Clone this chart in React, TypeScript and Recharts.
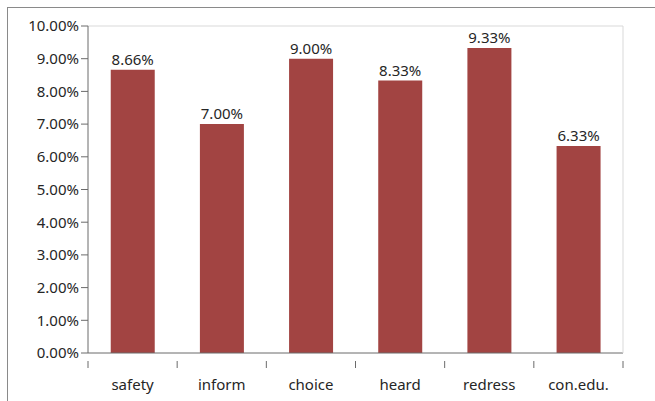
import React from 'react';
import { BarChart, Bar, XAxis, YAxis, LabelList } from 'recharts';

const categories = ['safety', 'inform', 'choice', 'heard', 'redress', 'con.edu.'];
const values = [8.66, 7.0, 9.0, 8.33, 9.33, 6.33];
const yTicks = [0, 1, 2, 3, 4, 5, 6, 7, 8, 9, 10];

const data = categories.map((c, i) => ({ name: c, value: values[i] }));

const W = 655;
const H = 401;
const MARGIN = { top: 25, right: 31, bottom: 0, left: 0 };
const YW = 88;
const PLOT_W = W - MARGIN.left - MARGIN.right - YW - 1;
const STEP = PLOT_W / categories.length;
const FONT = '"Noto Sans", sans-serif';
const AXIS = '#6b6b6b';

const XTick = (props: any) => {
  const { x, y, payload, index } = props;
  return (
    <g>
      <line x1={x - STEP / 2} x2={x - STEP / 2} y1={y} y2={y + 7} stroke={AXIS} />
      {index === categories.length - 1 && (
        <line x1={x + STEP / 2} x2={x + STEP / 2} y1={y} y2={y + 7} stroke={AXIS} />
      )}
      <text x={x} y={y + 29} textAnchor="middle" fill="#262626" fontSize={15} fontFamily={FONT}>
        {payload.value}
      </text>
    </g>
  );
};

export default function App() {
  return (
    <div style={{ position: 'absolute', left: 0, top: 0, width: W, height: H, background: '#fff' }}>
      <div
        style={{
          position: 'absolute',
          left: 7,
          top: 7,
          width: W - 7,
          height: H - 7,
          borderTop: '1px solid #8a8a8a',
          borderLeft: '1px solid #8a8a8a',
          boxSizing: 'border-box',
        }}
      />
      <BarChart width={W} height={H} data={data} margin={MARGIN} barCategoryGap="25.5%">
        <XAxis
          dataKey="name"
          axisLine={{ stroke: AXIS }}
          tickLine={false}
          tick={<XTick />}
          interval={0}
          height={48}
        />
        <XAxis xAxisId="top" orientation="top" dataKey="name" tick={false} tickLine={false} axisLine={{ stroke: '#d9d9d9' }} height={1} />
        <YAxis
          width={YW}
          domain={[0, 10]}
          ticks={yTicks}
          interval={0}
          axisLine={{ stroke: AXIS }}
          tickLine={{ stroke: AXIS }}
          tickSize={7}
          tickMargin={2}
          tickFormatter={(v: number) => v.toFixed(2) + '%'}
          tick={{ fill: '#262626', fontSize: 15, fontFamily: FONT }}
        />
        <YAxis yAxisId="right" orientation="right" domain={[0, 10]} tick={false} tickLine={false} axisLine={{ stroke: '#d9d9d9' }} width={1} />
        <Bar dataKey="value" fill="#A24442" isAnimationActive={false}>
          <LabelList
            dataKey="value"
            position="top"
            offset={5}
            formatter={(v: number) => v.toFixed(2) + '%'}
            style={{ fill: '#262626', fontSize: 15, fontFamily: FONT }}
          />
        </Bar>
      </BarChart>
    </div>
  );
}
